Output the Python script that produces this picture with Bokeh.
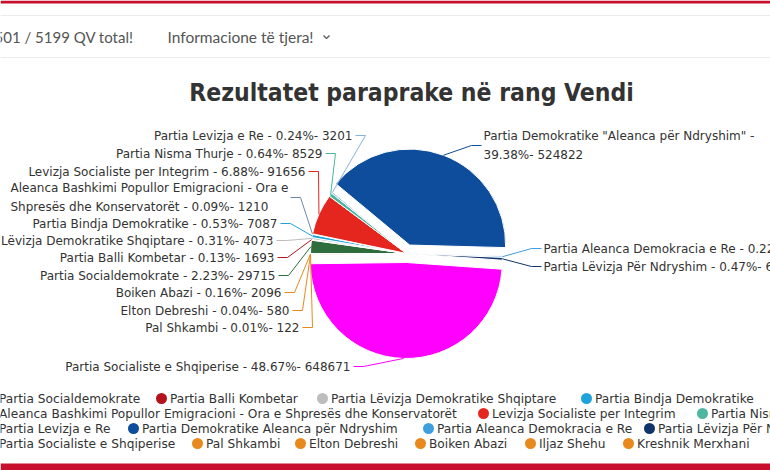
import math
from bokeh.plotting import figure
from bokeh.models import Range1d
from bokeh.core.properties import value
from bokeh.embed import file_html
from bokeh.resources import INLINE

# ---------------- data ----------------
names = [
    "Partia Socialdemokrate",
    "Partia Balli Kombetar",
    "Partia Lëvizja Demokratike Shqiptare",
    "Partia Bindja Demokratike",
    "Aleanca Bashkimi Popullor Emigracioni - Ora e Shpresës dhe Konservatorët",
    "Levizja Socialiste per Integrim",
    "Partia Nisma Thurje",
    "Partia Levizja e Re",
    "Partia Demokratike Aleanca për Ndryshim",
    "Partia Aleanca Demokracia e Re",
    "Partia Lëvizja Për Ndryshim",
    "Partia Socialiste e Shqiperise",
    "Pal Shkambi",
    "Elton Debreshi",
    "Boiken Abazi",
    "Iljaz Shehu",
    "Kreshnik Merxhani",
]
label_names = list(names)
label_names[8] = 'Partia Demokratike "Aleanca për Ndryshim"'
votes = [29715, 1693, 4073, 7087, 1210, 91656, 8529, 3201, 524822,
         2944, 6264, 648671, 122, 580, 2096, 0, 0]
pcts = ["2.23", "0.13", "0.31", "0.53", "0.09", "6.88", "0.64", "0.24", "39.38",
        "0.22", "0.47", "48.67", "0.01", "0.04", "0.16", "0.00", "0.00"]
colors = ["#2f6d3d", "#b3141c", "#bdbdbd", "#1fa3dc", "#6f86a8", "#e4261f",
          "#4db6a0", "#86b4dc", "#0d4d9c", "#3e9fdc", "#11346b", "#ff00ff",
          "#e8891e", "#e8891e", "#e8891e", "#e8891e", "#e8891e"]
sliced = [False] * 8 + [True, False, False, True] + [False] * 5

title = "Rezultatet paraprake në rang Vendi"
nav_left = "501 / 5199 QV total!"
nav_right = "Informacione të tjera!"

# ---------------- layout (page pixels) ----------------
W, H = 770, 470
cx, cy, R, OFF = 406, 253, 96, 9
START = 270.0  # degrees clockwise from 12 o'clock

# label layout: (anchor x at label edge, y, side)
lab_layout = {
    0: (275, 275, "L"), 1: (274, 257, "L"), 2: (273, 240, "L"), 3: (277, 223, "L"),
    4: (287, 197, "L"), 5: (305, 171, "L"), 6: (322, 153, "L"), 7: (352, 135, "L"),
    8: (483, 145, "R"), 9: (543, 248, "R"), 10: (543, 266, "R"),
    11: (350, 366, "L"), 12: (299, 327, "L"), 13: (289, 310, "L"), 14: (281, 292, "L"),
}
wrap_at = {4: "Ora e ", 8: '" - '}
multi_left_x = {4: 10}

leg_rows_y = [398, 413, 428, 443]
leg_pos = [(-10, 0), (161, 0), (322, 0), (586, 0),
           (-10, 1), (483, 1), (702, 1),
           (-10, 2), (133, 2), (428, 2), (649, 2),
           (-10, 3), (197, 3), (300, 3), (420, 3), (530, 3), (628, 3)]

p = figure(width=W, height=H, x_range=Range1d(0, W), y_range=Range1d(H, 0),
           output_backend="svg", toolbar_location=None, min_border=0)
p.axis.visible = False
p.grid.visible = False
p.outline_line_color = None
p.background_fill_color = "white"
p.border_fill_color = "white"

# page decoration: red bars, nav bar rules
p.quad(left=[0, 0], right=[W, W], top=[0, 463], bottom=[3, H],
       color="#c8102e", line_color=None)
p.segment(x0=[0, 0], x1=[W, W], y0=[15, 57], y1=[15, 57],
          line_color="#ececec", line_width=1)
p.text(x=[133], y=[36], text=[nav_left], text_align="right", text_baseline="middle",
       text_font=value("Lato"), text_font_size="15px", text_color="#555555")
p.text(x=[167], y=[36], text=[nav_right], text_align="left", text_baseline="middle",
       text_font=value("Lato"), text_font_size="15.5px", text_color="#555555")
p.line(x=[323, 326, 329], y=[35, 38, 35], line_color="#666666", line_width=1.5)

# title
p.text(x=[411], y=[92], text=[title], text_align="center", text_baseline="middle",
       text_font=value("'DejaVu Sans Condensed', 'Liberation Sans Narrow', sans-serif"),
       text_font_style="bold", text_font_size="24.5px", text_color="#333333")

# ---------------- pie ----------------
total = float(sum(votes))
wx, wy, sa, ea, wc, mids = [], [], [], [], [], []
a = START
for i, v in enumerate(votes):
    span = 360.0 * v / total
    a1, a2 = a, a + span
    a = a2
    m = math.radians((a1 + a2) / 2)
    mids.append(m)
    ox = OFF * math.sin(m) if sliced[i] else 0.0
    oy = -OFF * math.cos(m) if sliced[i] else 0.0
    if v <= 0:
        continue
    wx.append(cx + ox)
    wy.append(cy + oy)
    sa.append(math.radians(90 - a2))
    ea.append(math.radians(90 - a1))
    wc.append(colors[i])

p.wedge(x=wx, y=wy, radius=R, radius_units="screen", start_angle=sa, end_angle=ea,
        fill_color=wc, line_color="white", line_width=1)

# ---------------- data labels + connectors ----------------
lx, ly, lt, la = [], [], [], []
cxs, cys, ccol = [], [], []
for i in range(len(votes)):
    if i not in lab_layout:
        continue
    ax, ay, side = lab_layout[i]
    txt = f"{label_names[i]} - {pcts[i]}%- {votes[i]}"
    if i in wrap_at:
        k = txt.index(wrap_at[i]) + len(wrap_at[i])
        txt = txt[:k].rstrip() + "\n" + txt[k:]
    m = mids[i]
    ox = OFF * math.sin(m) if sliced[i] else 0.0
    oy = -OFF * math.cos(m) if sliced[i] else 0.0
    tx = cx + ox + R * math.sin(m)
    ty = cy + oy - R * math.cos(m)
    if side == "L":
        if i in multi_left_x:
            lx.append(multi_left_x[i]); la.append("left")
        else:
            lx.append(ax); la.append("right")
        cxs.append([ax + 3, ax + 13, tx]); cys.append([ay, ay, ty])
    else:
        lx.append(ax); la.append("left")
        cxs.append([ax - 2, ax - 12, tx]); cys.append([ay, ay, ty])
    ly.append(ay); lt.append(txt); ccol.append(colors[i])

p.multi_line(xs=cxs, ys=cys, line_color=ccol, line_width=1)
p.text(x=lx, y=ly, text=lt, text_align=la, text_baseline="middle",
       text_font=value("DejaVu Sans"), text_font_size="12px",
       text_line_height=1.33, text_color="#333333")

# ---------------- legend ----------------
mx = [pos[0] for pos in leg_pos]
my = [leg_rows_y[pos[1]] for pos in leg_pos]
p.scatter(x=mx, y=my, size=11, marker="circle", fill_color=colors, line_color=None)
p.text(x=[v + 8.5 for v in mx], y=my, text=names, text_align="left", text_baseline="middle",
       text_font=value("DejaVu Sans"), text_font_size="12.2px", text_color="#333333")

open("out.html", "w").write(file_html(p, INLINE))
